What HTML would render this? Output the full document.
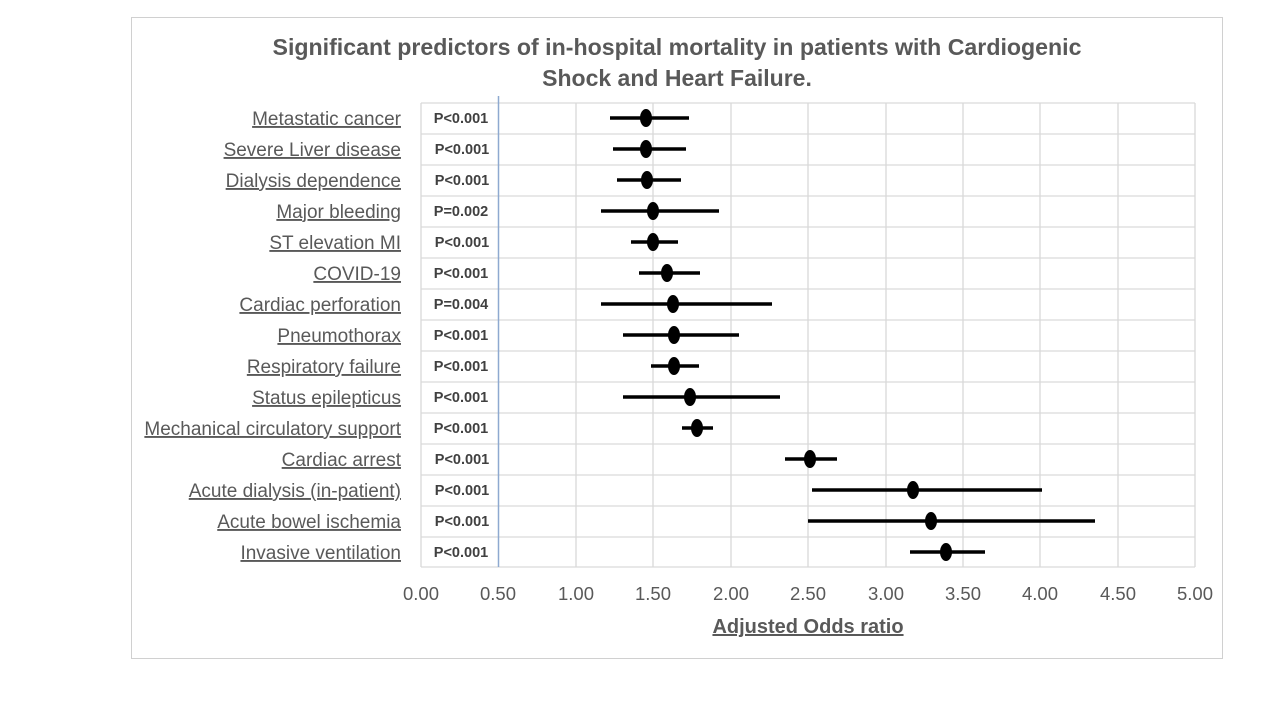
<!DOCTYPE html>
<html><head><meta charset="utf-8"><style>
body{margin:0;background:#fff;}
svg{display:block;font-family:"Liberation Sans",Calibri,sans-serif;}
</style></head><body>
<svg width="1280" height="720" viewBox="0 0 1280 720" xmlns="http://www.w3.org/2000/svg">
<rect x="131.5" y="17.5" width="1091" height="641" fill="#fff" stroke="#d0d0d0"/>
<text x="677" y="55" text-anchor="middle" font-size="23" font-weight="bold" fill="#595959" textLength="809" lengthAdjust="spacingAndGlyphs">Significant predictors of in-hospital mortality in patients with Cardiogenic</text>
<text x="677" y="86" text-anchor="middle" font-size="23" font-weight="bold" fill="#595959">Shock and Heart Failure.</text>
<g stroke="#d9d9d9" stroke-width="1.3">
<line x1="421" y1="103" x2="421" y2="567"/>
<line x1="576" y1="103" x2="576" y2="567"/>
<line x1="653" y1="103" x2="653" y2="567"/>
<line x1="731" y1="103" x2="731" y2="567"/>
<line x1="808" y1="103" x2="808" y2="567"/>
<line x1="886" y1="103" x2="886" y2="567"/>
<line x1="963" y1="103" x2="963" y2="567"/>
<line x1="1040" y1="103" x2="1040" y2="567"/>
<line x1="1118" y1="103" x2="1118" y2="567"/>
<line x1="1195" y1="103" x2="1195" y2="567"/>
<line x1="421" y1="103" x2="1195" y2="103"/>
<line x1="421" y1="134" x2="1195" y2="134"/>
<line x1="421" y1="165" x2="1195" y2="165"/>
<line x1="421" y1="196" x2="1195" y2="196"/>
<line x1="421" y1="227" x2="1195" y2="227"/>
<line x1="421" y1="258" x2="1195" y2="258"/>
<line x1="421" y1="289" x2="1195" y2="289"/>
<line x1="421" y1="320" x2="1195" y2="320"/>
<line x1="421" y1="351" x2="1195" y2="351"/>
<line x1="421" y1="382" x2="1195" y2="382"/>
<line x1="421" y1="413" x2="1195" y2="413"/>
<line x1="421" y1="444" x2="1195" y2="444"/>
<line x1="421" y1="475" x2="1195" y2="475"/>
<line x1="421" y1="506" x2="1195" y2="506"/>
<line x1="421" y1="537" x2="1195" y2="537"/>
<line x1="421" y1="567" x2="1195" y2="567"/>
</g>
<line x1="498.5" y1="96" x2="498.5" y2="567" stroke="#8ea9d0" stroke-width="1.5"/>
<g font-size="19" fill="#595959" text-anchor="end" text-decoration="underline">
<text x="401" y="125">Metastatic cancer</text>
<text x="401" y="156">Severe Liver disease</text>
<text x="401" y="187">Dialysis dependence</text>
<text x="401" y="218">Major bleeding</text>
<text x="401" y="249">ST elevation MI</text>
<text x="401" y="280">COVID-19</text>
<text x="401" y="311">Cardiac perforation</text>
<text x="401" y="342">Pneumothorax</text>
<text x="401" y="373">Respiratory failure</text>
<text x="401" y="404">Status epilepticus</text>
<text x="401" y="435">Mechanical circulatory support</text>
<text x="401" y="466">Cardiac arrest</text>
<text x="401" y="497">Acute dialysis (in-patient)</text>
<text x="401" y="528">Acute bowel ischemia</text>
<text x="401" y="559">Invasive ventilation</text>
</g>
<g font-size="14.5" font-weight="bold" fill="#404040" text-anchor="middle">
<text x="461" y="123">P&lt;0.001</text>
<text x="462" y="154">P&lt;0.001</text>
<text x="462" y="185">P&lt;0.001</text>
<text x="461" y="216">P=0.002</text>
<text x="462" y="247">P&lt;0.001</text>
<text x="461" y="278">P&lt;0.001</text>
<text x="461" y="309">P=0.004</text>
<text x="461" y="340">P&lt;0.001</text>
<text x="461" y="371">P&lt;0.001</text>
<text x="461" y="402">P&lt;0.001</text>
<text x="461" y="433">P&lt;0.001</text>
<text x="462" y="464">P&lt;0.001</text>
<text x="462" y="495">P&lt;0.001</text>
<text x="462" y="526">P&lt;0.001</text>
<text x="461" y="557">P&lt;0.001</text>
</g>
<g stroke="#000" stroke-width="3.5">
<line x1="610" y1="118" x2="689" y2="118"/>
<line x1="613" y1="149" x2="686" y2="149"/>
<line x1="617" y1="180" x2="681" y2="180"/>
<line x1="601" y1="211" x2="719" y2="211"/>
<line x1="631" y1="242" x2="678" y2="242"/>
<line x1="639" y1="273" x2="700" y2="273"/>
<line x1="601" y1="304" x2="772" y2="304"/>
<line x1="623" y1="335" x2="739" y2="335"/>
<line x1="651" y1="366" x2="699" y2="366"/>
<line x1="623" y1="397" x2="780" y2="397"/>
<line x1="682" y1="428" x2="713" y2="428"/>
<line x1="785" y1="459" x2="837" y2="459"/>
<line x1="812" y1="490" x2="1042" y2="490"/>
<line x1="808" y1="521" x2="1095" y2="521"/>
<line x1="910" y1="552" x2="985" y2="552"/>
</g>
<g fill="#000">
<ellipse cx="646" cy="118" rx="6" ry="9"/>
<ellipse cx="646" cy="149" rx="6" ry="9"/>
<ellipse cx="647" cy="180" rx="6" ry="9"/>
<ellipse cx="653" cy="211" rx="6" ry="9"/>
<ellipse cx="653" cy="242" rx="6" ry="9"/>
<ellipse cx="667" cy="273" rx="6" ry="9"/>
<ellipse cx="673" cy="304" rx="6" ry="9"/>
<ellipse cx="674" cy="335" rx="6" ry="9"/>
<ellipse cx="674" cy="366" rx="6" ry="9"/>
<ellipse cx="690" cy="397" rx="6" ry="9"/>
<ellipse cx="697" cy="428" rx="6" ry="9"/>
<ellipse cx="810" cy="459" rx="6" ry="9"/>
<ellipse cx="913" cy="490" rx="6" ry="9"/>
<ellipse cx="931" cy="521" rx="6" ry="9"/>
<ellipse cx="946" cy="552" rx="6" ry="9"/>
</g>
<g font-size="18.5" fill="#595959" text-anchor="middle">
<text x="421" y="600">0.00</text>
<text x="498" y="600">0.50</text>
<text x="576" y="600">1.00</text>
<text x="653" y="600">1.50</text>
<text x="731" y="600">2.00</text>
<text x="808" y="600">2.50</text>
<text x="886" y="600">3.00</text>
<text x="963" y="600">3.50</text>
<text x="1040" y="600">4.00</text>
<text x="1118" y="600">4.50</text>
<text x="1195" y="600">5.00</text>
</g>
<text x="808" y="633" text-anchor="middle" font-size="20" font-weight="bold" fill="#595959" text-decoration="underline">Adjusted Odds ratio</text>
</svg>
</body></html>
